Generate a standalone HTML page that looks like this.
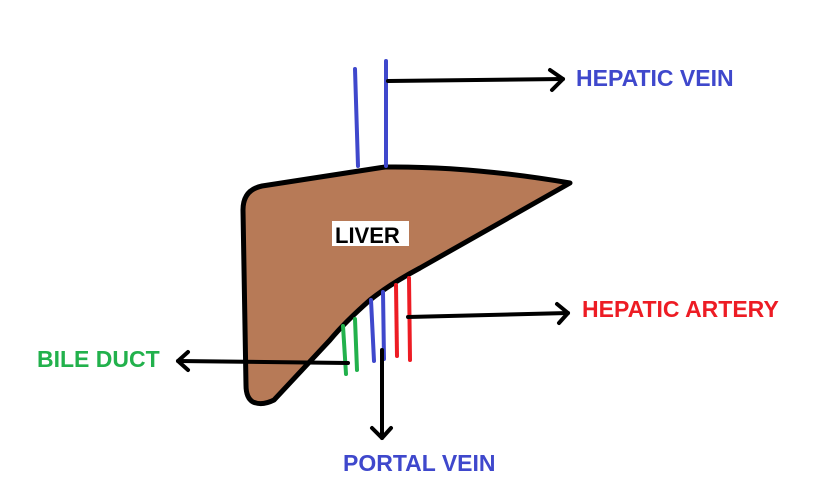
<!DOCTYPE html>
<html><head><meta charset="utf-8"><style>
html,body{margin:0;padding:0;background:#fff;}
svg{display:block}
text{font-family:"Liberation Sans",sans-serif;font-weight:bold;}
</style></head><body>
<svg width="837" height="482" viewBox="0 0 837 482" xmlns="http://www.w3.org/2000/svg">
<path d="M262,186 L385,167 Q470,166 570,183 L420,268 Q390,284 370,300 Q345,322 330,340 L274,400 Q262,406 253,402 Q246,398 246,385 L243,210 Q243,190 262,186 Z" fill="#b77a57" stroke="#000" stroke-width="5" stroke-linejoin="round"/>
<rect x="332" y="221" width="77" height="25" fill="#fff"/>
<text x="335" y="243" font-size="22" fill="#000">LIVER</text>
<g stroke="#3f48cc" stroke-width="4" stroke-linecap="round">
<line x1="355" y1="69" x2="358" y2="166"/>
<line x1="386" y1="61" x2="386" y2="166"/>
</g>
<g stroke="#000" stroke-width="4" fill="none" stroke-linecap="round" stroke-linejoin="round">
<path d="M388,81 L563,79"/>
<path d="M550,70 L563,79 L552,90"/>
</g>
<text x="576" y="86" font-size="23" fill="#3f48cc">HEPATIC VEIN</text>
<g stroke-width="4" stroke-linecap="round">
<line x1="343" y1="326" x2="346" y2="374" stroke="#22b14c"/>
<line x1="355" y1="319" x2="357" y2="370" stroke="#22b14c"/>
<line x1="371" y1="300" x2="374" y2="361" stroke="#3f48cc"/>
<line x1="383" y1="292" x2="384" y2="359" stroke="#3f48cc"/>
<line x1="396" y1="285" x2="397" y2="356" stroke="#ed1c24"/>
<line x1="409" y1="278" x2="410" y2="360" stroke="#ed1c24"/>
</g>
<g stroke="#000" stroke-width="4" fill="none" stroke-linecap="round" stroke-linejoin="round">
<path d="M408,317 L568,313"/>
<path d="M557,304 L568,313 L559,323"/>
<path d="M348,363 L178,361"/>
<path d="M188,352 L178,361 L188,370"/>
<path d="M382,350 L382,438"/>
<path d="M372,428 L382,438 L391,428"/>
</g>
<text x="582" y="317" font-size="23" fill="#ed1c24">HEPATIC ARTERY</text>
<text x="37" y="367" font-size="23" fill="#22b14c">BILE DUCT</text>
<text x="343" y="471" font-size="23" fill="#3f48cc">PORTAL VEIN</text>
</svg>
</body></html>
